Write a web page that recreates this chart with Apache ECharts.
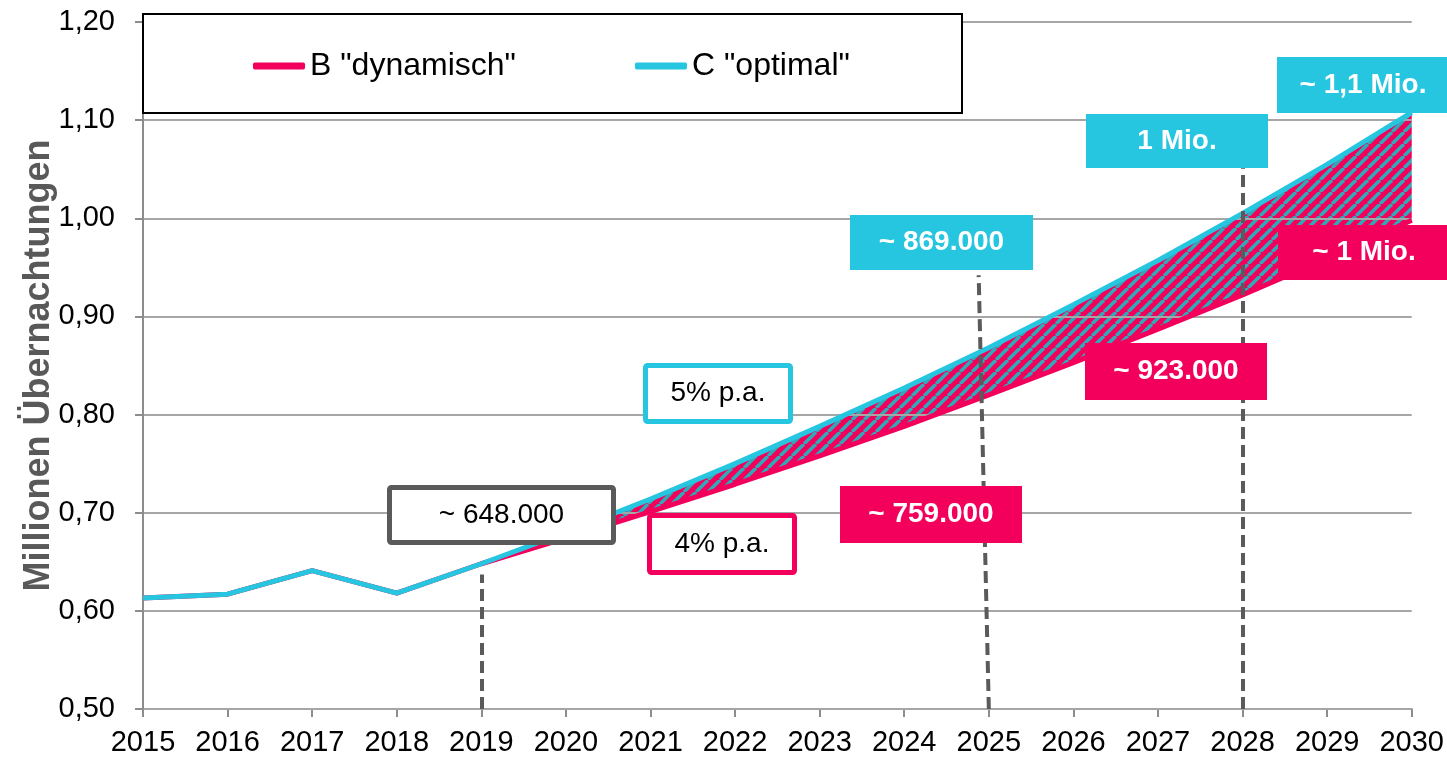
<!DOCTYPE html>
<html>
<head>
<meta charset="utf-8">
<script src="https://cdn.jsdelivr.net/npm/echarts@6/dist/echarts.min.js"></script>
<style>
  html, body { margin: 0; padding: 0; background: #fff; }
  #chart { width: 1447px; height: 758px; }
</style>
</head>
<body>
<div id="chart"></div>
<script>
// history 2015-2018, then the two forecasts from 2019 on
const histYears = [2015, 2016, 2017, 2018]
const histValues = [0.613, 0.617, 0.641, 0.618]
const forecastYears = [2019, 2020, 2021, 2022, 2023, 2024, 2025, 2026, 2027, 2028, 2029, 2030]
const bValues = [0.648, 0.674, 0.701, 0.729, 0.758, 0.788, 0.820, 0.853, 0.887, 0.922, 0.959, 0.998]
const cValues = [0.648, 0.680, 0.714, 0.750, 0.788, 0.827, 0.868, 0.912, 0.957, 1.005, 1.055, 1.108]
const seriesNames = ['B "dynamisch"', 'C "optimal"']

// dashed guide lines: bottom x, top x, top value
const guideX = [2019, 2025, 2028]
const guideTopX = [2019, 2024.88, 2028]
const guideTop = [0.637, 0.942, 1.051]

const PINK = '#f2005b'
const CYAN = '#26c6e0'
const GRAY = '#5a5a5a'
const FONT = '"Liberation Sans", Arial, sans-serif'

function toPairs(xs, ys) {
  return xs.map((x, i) => [x, ys[i]])
}

const bData = toPairs(histYears, histValues).concat(toPairs(forecastYears, bValues))
const cData = toPairs(histYears, histValues).concat(toPairs(forecastYears, cValues))

// pink with teal diagonal stripes
function makeHatch() {
  const s = 12
  const cv = document.createElement('canvas')
  cv.width = s
  cv.height = s
  const ctx = cv.getContext('2d')
  ctx.fillStyle = PINK
  ctx.fillRect(0, 0, s, s)
  ctx.strokeStyle = '#30a9b9'
  ctx.lineWidth = 3.5
  for (let k = -1; k <= 1; k++) {
    ctx.beginPath()
    ctx.moveTo(k * s, s)
    ctx.lineTo(k * s + s, 0)
    ctx.stroke()
  }
  return cv
}
const hatch = makeHatch()

function box(x, y, w, h, text, fill, stroke, bold) {
  return [{
    type: 'rect',
    z: 10,
    shape: stroke ? { x: x + 2.5, y: y + 2.5, width: w - 5, height: h - 5, r: 2 } : { x, y, width: w, height: h },
    style: { fill, stroke: stroke || null, lineWidth: stroke ? 5 : 0 }
  }, {
    type: 'text',
    z: 11,
    x: x + w / 2,
    y: y + h / 2,
    style: {
      text,
      fill: stroke ? '#000' : '#fff',
      font: (bold ? 'bold ' : '') + '28px ' + FONT,
      align: 'center',
      verticalAlign: 'middle'
    }
  }]
}

const chart = echarts.init(document.getElementById('chart'))

chart.setOption({
  animation: false,
  grid: { left: 143, right: 33, top: 22, bottom: 49 },
  xAxis: {
    type: 'value',
    min: 2015,
    max: 2030,
    interval: 1,
    axisLine: { lineStyle: { color: '#8c8c8c', width: 2 } },
    axisTick: { length: 8, lineStyle: { color: '#8c8c8c', width: 2 } },
    axisLabel: { color: '#000', fontSize: 29, fontFamily: FONT, margin: 19, formatter: v => String(v) },
    splitLine: { show: false }
  },
  yAxis: {
    type: 'value',
    z: 2,
    min: 0.5,
    max: 1.2,
    interval: 0.1,
    name: 'Millionen Übernachtungen',
    nameLocation: 'middle',
    nameGap: 86,
    nameMoveOverlap: false,
    nameTextStyle: { color: '#595959', fontSize: 36, fontWeight: 'bold', fontFamily: FONT },
    axisLine: { show: true, lineStyle: { color: '#8c8c8c', width: 2 } },
    axisTick: { show: true, length: 8, lineStyle: { color: '#8c8c8c', width: 2 } },
    axisLabel: { color: '#000', fontSize: 29, fontFamily: FONT, margin: 28, formatter: v => v.toFixed(2).replace('.', ',') },
    splitLine: { lineStyle: { color: '#a6a6a6', width: 2 } }
  },
  legend: [{
    data: [seriesNames[0]],
    left: 253,
    top: 50,
    padding: 0,
    z: 6,
    icon: 'roundRect',
    itemWidth: 52,
    itemHeight: 7,
    textStyle: { color: '#000', fontSize: 32, fontFamily: FONT }
  }, {
    data: [seriesNames[1]],
    left: 635,
    top: 50,
    padding: 0,
    z: 6,
    icon: 'roundRect',
    itemWidth: 52,
    itemHeight: 7,
    textStyle: { color: '#000', fontSize: 32, fontFamily: FONT }
  }],
  graphic: [
    { type: 'rect', z: 5, shape: { x: 143, y: 14, width: 819, height: 99 }, style: { fill: '#fff', stroke: '#000', lineWidth: 2 } }
  ].concat(
    box(1277, 57, 172, 56, '~ 1,1 Mio.', CYAN, null, true),
    box(1086, 114, 182, 54, '1 Mio.', CYAN, null, true),
    box(850, 215, 183, 55, '~ 869.000', CYAN, null, true),
    box(1278, 225, 172, 55, '~ 1 Mio.', PINK, null, true),
    box(1085, 343, 182, 57, '~ 923.000', PINK, null, true),
    box(840, 486, 182, 57, '~ 759.000', PINK, null, true),
    box(643, 363, 150, 61, '5% p.a.', '#fff', CYAN, false),
    box(647, 513, 150, 62, '4% p.a.', '#fff', PINK, false),
    box(387, 485, 229, 60, '~ 648.000', '#fff', GRAY, false)
  ),
  series: [{
    type: 'custom',
    name: 'band',
    z: 1,
    silent: true,
    data: [[forecastYears[0], bValues[0]]],
    renderItem: (params, api) => {
      const upper = forecastYears.map((x, i) => api.coord([x, cValues[i]]))
      const lower = forecastYears.map((x, i) => api.coord([x, bValues[i]])).reverse()
      return {
        type: 'polygon',
        shape: { points: upper.concat(lower) },
        style: { fill: { image: hatch, repeat: 'repeat' } }
      }
    }
  }, {
    type: 'line',
    name: seriesNames[0],
    z: 3,
    data: bData,
    symbol: 'none',
    lineStyle: { color: PINK, width: 5 },
    itemStyle: { color: PINK },
    markLine: {
      silent: true,
      symbol: 'none',
      label: { show: false },
      lineStyle: { color: GRAY, width: 4, type: [12, 6] },
      data: guideX.map((x, i) => [{ coord: [x, 0.5] }, { coord: [guideTopX[i], guideTop[i]] }])
    }
  }, {
    type: 'line',
    name: seriesNames[1],
    z: 3,
    data: cData,
    symbol: 'none',
    lineStyle: { color: CYAN, width: 5 },
    itemStyle: { color: CYAN }
  }]
})

window.addEventListener('resize', () => chart.resize())
</script>
</body>
</html>
